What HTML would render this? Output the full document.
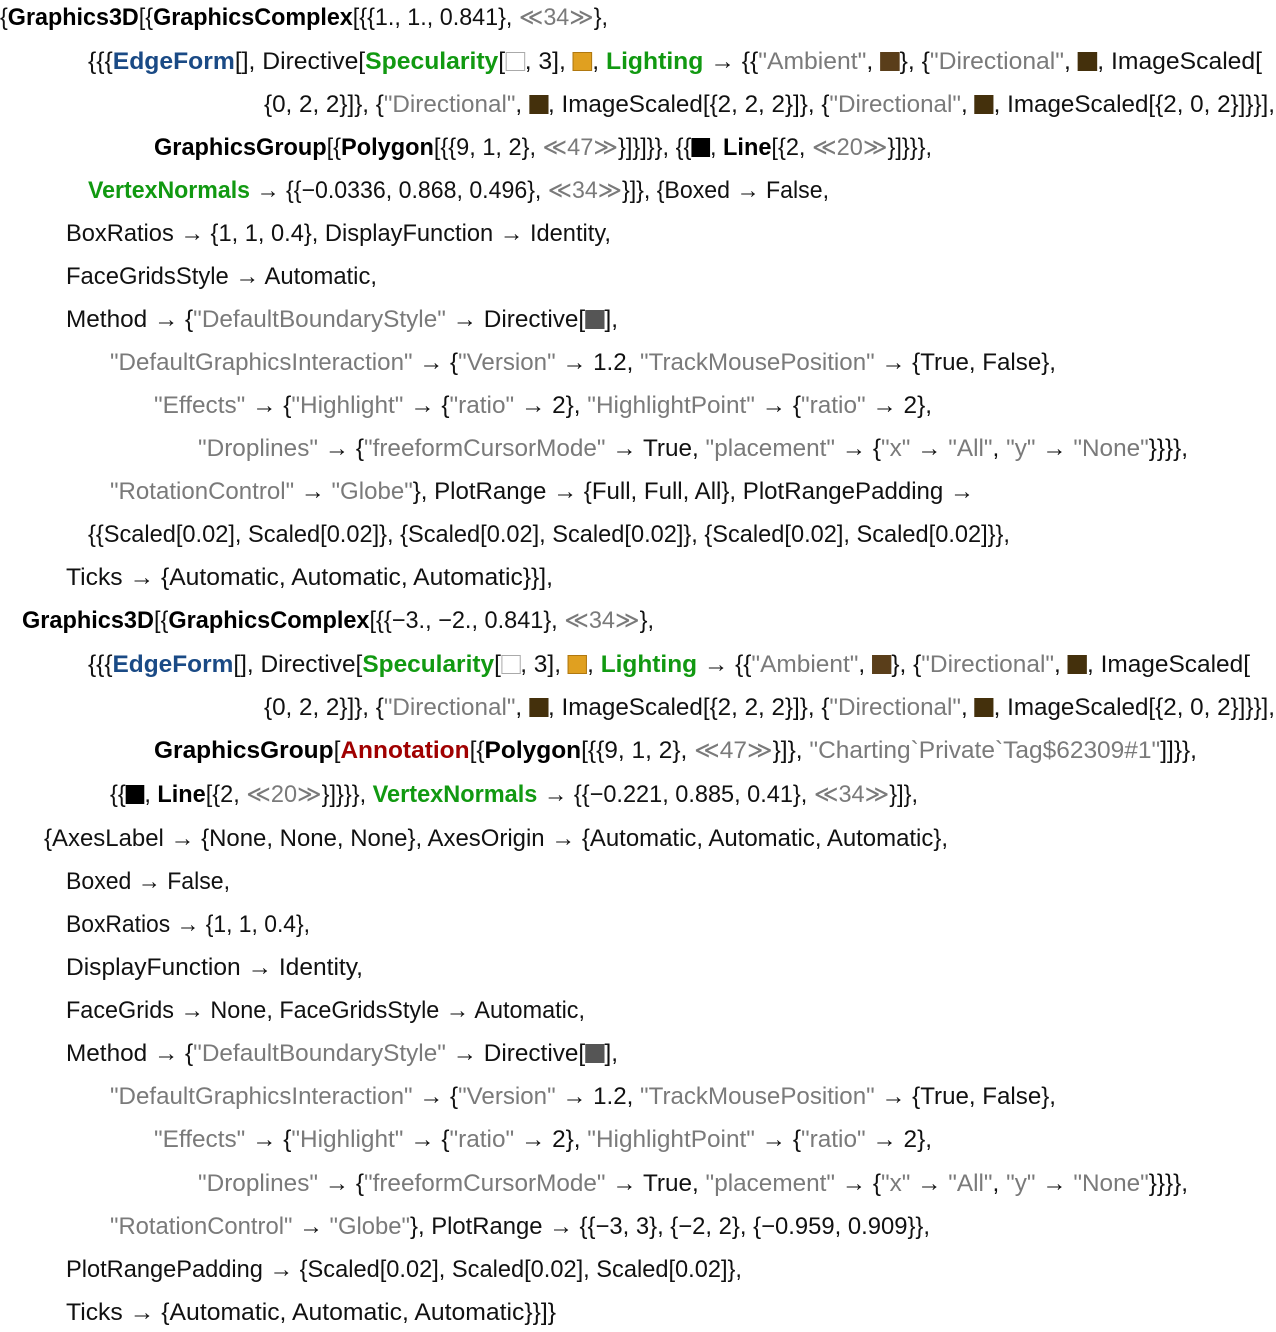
<!DOCTYPE html>
<html><head><meta charset="utf-8"><style>
html,body{margin:0;padding:0;background:#fff;width:1276px;height:1332px;overflow:hidden}
.l{position:absolute;height:30px;white-space:nowrap;font-family:"Liberation Sans",sans-serif;font-size:24px;line-height:30px;color:#111}
.l>span{display:inline-block;transform-origin:0 50%}
b{font-weight:bold;color:#000}
.g{color:#7a7a7a}.gn{color:#119911;font-weight:bold}.bl{color:#1a4a85;font-weight:bold}.rd{color:#a00000;font-weight:bold}
i{font-style:normal;display:inline-block;width:19px;height:19px;vertical-align:-2px;box-sizing:border-box}
.w{border:1px solid #aaa;background:#fff}.o{background:#e0a020;border:1px solid #b07810}.a{background:#5a3e1a}.d{background:#44300c}.k{background:#000}.gy{background:#555}
</style></head><body>
<div class="l" style="left:0;top:3px;width:608px"><span>{<b>Graphics3D</b>[{<b>GraphicsComplex</b>[{{1., 1., 0.841}, <span class="g">≪34≫</span>},</span></div>
<div class="l" style="left:88px;top:47px;width:1174px"><span>{{{<span class="bl">EdgeForm</span>[], Directive[<span class="gn">Specularity</span>[<i class="w"></i>, 3], <i class="o"></i>, <span class="gn">Lighting</span> → {{<span class="g">"Ambient"</span>, <i class="a"></i>}, {<span class="g">"Directional"</span>, <i class="d"></i>, ImageScaled[</span></div>
<div class="l" style="left:264px;top:90px;width:1011px"><span>{0, 2, 2}]}, {<span class="g">"Directional"</span>, <i class="d"></i>, ImageScaled[{2, 2, 2}]}, {<span class="g">"Directional"</span>, <i class="d"></i>, ImageScaled[{2, 0, 2}]}}],</span></div>
<div class="l" style="left:154px;top:133px;width:778px"><span><b>GraphicsGroup</b>[{<b>Polygon</b>[{{9, 1, 2}, <span class="g">≪47≫</span>}]}]}}, {{<i class="k"></i>, <b>Line</b>[{2, <span class="g">≪20≫</span>}]}}},</span></div>
<div class="l" style="left:88px;top:176px;width:741px"><span><span class="gn">VertexNormals</span> → {{−0.0336, 0.868, 0.496}, <span class="g">≪34≫</span>}]}, {Boxed → False,</span></div>
<div class="l" style="left:66px;top:219px;width:545px"><span>BoxRatios → {1, 1, 0.4}, DisplayFunction → Identity,</span></div>
<div class="l" style="left:66px;top:262px;width:311px"><span>FaceGridsStyle → Automatic,</span></div>
<div class="l" style="left:66px;top:305px;width:552px"><span>Method → {<span class="g">"DefaultBoundaryStyle"</span> → Directive[<i class="gy"></i>],</span></div>
<div class="l" style="left:110px;top:348px;width:946px"><span><span class="g">"DefaultGraphicsInteraction"</span> → {<span class="g">"Version"</span> → 1.2, <span class="g">"TrackMousePosition"</span> → {True, False},</span></div>
<div class="l" style="left:154px;top:391px;width:778px"><span><span class="g">"Effects"</span> → {<span class="g">"Highlight"</span> → {<span class="g">"ratio"</span> → 2}, <span class="g">"HighlightPoint"</span> → {<span class="g">"ratio"</span> → 2},</span></div>
<div class="l" style="left:198px;top:434px;width:990px"><span><span class="g">"Droplines"</span> → {<span class="g">"freeformCursorMode"</span> → True, <span class="g">"placement"</span> → {<span class="g">"x"</span> → <span class="g">"All"</span>, <span class="g">"y"</span> → <span class="g">"None"</span>}}}},</span></div>
<div class="l" style="left:110px;top:477px;width:864px"><span><span class="g">"RotationControl"</span> → <span class="g">"Globe"</span>}, PlotRange → {Full, Full, All}, PlotRangePadding →</span></div>
<div class="l" style="left:88px;top:520px;width:922px"><span>{{Scaled[0.02], Scaled[0.02]}, {Scaled[0.02], Scaled[0.02]}, {Scaled[0.02], Scaled[0.02]}},</span></div>
<div class="l" style="left:66px;top:563px;width:487px"><span>Ticks → {Automatic, Automatic, Automatic}}],</span></div>
<div class="l" style="left:22px;top:606px;width:632px"><span><b>Graphics3D</b>[{<b>GraphicsComplex</b>[{{−3., −2., 0.841}, <span class="g">≪34≫</span>},</span></div>
<div class="l" style="left:88px;top:650px;width:1162px"><span>{{{<span class="bl">EdgeForm</span>[], Directive[<span class="gn">Specularity</span>[<i class="w"></i>, 3], <i class="o"></i>, <span class="gn">Lighting</span> → {{<span class="g">"Ambient"</span>, <i class="a"></i>}, {<span class="g">"Directional"</span>, <i class="d"></i>, ImageScaled[</span></div>
<div class="l" style="left:264px;top:693px;width:1011px"><span>{0, 2, 2}]}, {<span class="g">"Directional"</span>, <i class="d"></i>, ImageScaled[{2, 2, 2}]}, {<span class="g">"Directional"</span>, <i class="d"></i>, ImageScaled[{2, 0, 2}]}}],</span></div>
<div class="l" style="left:154px;top:736px;width:1043px"><span><b>GraphicsGroup</b>[<span class="rd">Annotation</span>[{<b>Polygon</b>[{{9, 1, 2}, <span class="g">≪47≫</span>}]}, <span class="g">"Charting`Private`Tag$62309#1"</span>]]}},</span></div>
<div class="l" style="left:110px;top:780px;width:808px"><span>{{<i class="k"></i>, <b>Line</b>[{2, <span class="g">≪20≫</span>}]}}}, <span class="gn">VertexNormals</span> → {{−0.221, 0.885, 0.41}, <span class="g">≪34≫</span>}]},</span></div>
<div class="l" style="left:44px;top:824px;width:904px"><span>{AxesLabel → {None, None, None}, AxesOrigin → {Automatic, Automatic, Automatic},</span></div>
<div class="l" style="left:66px;top:867px;width:164px"><span>Boxed → False,</span></div>
<div class="l" style="left:66px;top:910px;width:244px"><span>BoxRatios → {1, 1, 0.4},</span></div>
<div class="l" style="left:66px;top:953px;width:297px"><span>DisplayFunction → Identity,</span></div>
<div class="l" style="left:66px;top:996px;width:519px"><span>FaceGrids → None, FaceGridsStyle → Automatic,</span></div>
<div class="l" style="left:66px;top:1039px;width:552px"><span>Method → {<span class="g">"DefaultBoundaryStyle"</span> → Directive[<i class="gy"></i>],</span></div>
<div class="l" style="left:110px;top:1082px;width:946px"><span><span class="g">"DefaultGraphicsInteraction"</span> → {<span class="g">"Version"</span> → 1.2, <span class="g">"TrackMousePosition"</span> → {True, False},</span></div>
<div class="l" style="left:154px;top:1125px;width:778px"><span><span class="g">"Effects"</span> → {<span class="g">"Highlight"</span> → {<span class="g">"ratio"</span> → 2}, <span class="g">"HighlightPoint"</span> → {<span class="g">"ratio"</span> → 2},</span></div>
<div class="l" style="left:198px;top:1169px;width:990px"><span><span class="g">"Droplines"</span> → {<span class="g">"freeformCursorMode"</span> → True, <span class="g">"placement"</span> → {<span class="g">"x"</span> → <span class="g">"All"</span>, <span class="g">"y"</span> → <span class="g">"None"</span>}}}},</span></div>
<div class="l" style="left:110px;top:1212px;width:820px"><span><span class="g">"RotationControl"</span> → <span class="g">"Globe"</span>}, PlotRange → {{−3, 3}, {−2, 2}, {−0.959, 0.909}},</span></div>
<div class="l" style="left:66px;top:1255px;width:676px"><span>PlotRangePadding → {Scaled[0.02], Scaled[0.02], Scaled[0.02]},</span></div>
<div class="l" style="left:66px;top:1298px;width:490px"><span>Ticks → {Automatic, Automatic, Automatic}}]}</span></div>
<script>
document.querySelectorAll('.l').forEach(function(d){
  var s=d.firstElementChild;var tw=parseFloat(d.style.width);var w=s.getBoundingClientRect().width;
  if(w>0){s.style.transform='scaleX('+(tw/w)+')';}
});
</script>
</body></html>
